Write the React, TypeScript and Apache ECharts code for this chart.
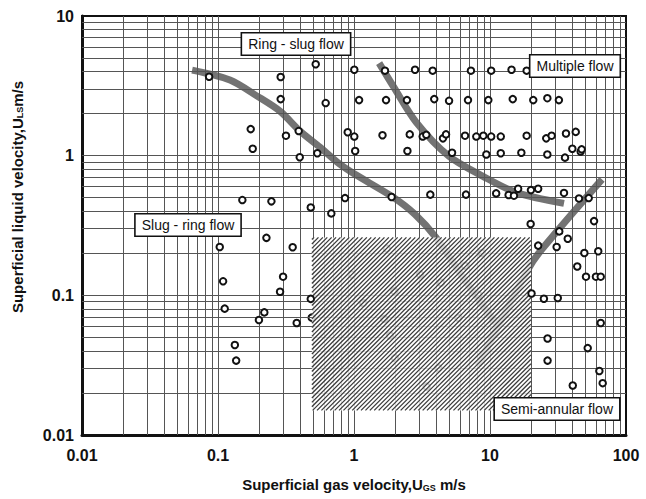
import { useEffect, useRef } from "react";
import * as echarts from "echarts";

// ---- axis ticks ----
const xTickLabels = ["0.01", "0.1", "1", "10", "100"];
const yTickLabels = ["0.01", "0.1", "1", "10"];

// ---- measured points (superficial gas velocity, superficial liquid velocity) ----
const pointsGas = [
  0.086, 0.289, 0.523, 0.289, 0.619, 0.174, 0.316, 0.392, 0.18, 0.399, 0.537, 0.151, 0.247, 0.481, 0.681,
  0.227, 0.103, 0.354, 0.109, 0.301, 0.286, 0.481, 0.112, 0.219, 0.2, 0.379, 0.133, 0.136,
  1.005, 1.69, 2.81, 3.79, 7.24, 1.09, 1.72, 2.45, 3.89, 5.0, 6.89, 0.899, 1.005, 1.02, 1.62, 2.57, 2.47,
  3.2, 3.4, 4.51, 4.75, 5.26, 6.55, 7.93, 8.93, 0.859, 1.89, 3.64, 6.66,
  10.2, 14.4, 18.6, 9.72, 14.7, 20.8, 26.4, 32.1, 10.2, 12.0, 18.6, 25.9, 28.4, 36.2, 42.7,
  9.4, 12.0, 17.0, 26.4, 35.6, 40.3, 46.4, 47.2, 11.1, 13.7, 15.0, 16.1, 20.0, 22.6, 35.0, 45.1, 53.2,
  19.9, 58.2, 32.3, 37.3, 22.6, 30.9, 49.4, 62.5, 43.8, 50.8, 60.1, 65.2, 20.2, 24.9, 31.5, 65.2,
  26.5, 52.3, 26.5, 63.7, 67.4, 40.6,
];
const pointsLiquid = [
  3.67, 3.66, 4.51, 2.54, 2.38, 1.55, 1.39, 1.5, 1.12, 0.974, 1.04, 0.481, 0.471, 0.426, 0.386,
  0.258, 0.222, 0.221, 0.126, 0.136, 0.106, 0.0943, 0.0803, 0.0755, 0.0666, 0.0634, 0.0441, 0.0341,
  4.12, 4.06, 4.12, 4.06, 4.06, 2.5, 2.5, 2.5, 2.54, 2.47, 2.5, 1.47, 1.37, 1.08, 1.4, 1.42, 1.08,
  1.37, 1.41, 1.33, 1.42, 1.05, 1.39, 1.37, 1.39, 0.497, 0.506, 0.526, 0.526,
  4.06, 4.12, 4.06, 2.5, 2.54, 2.5, 2.58, 2.5, 1.37, 1.37, 1.39, 1.33, 1.39, 1.44, 1.48,
  1.02, 1.04, 1.05, 1.02, 0.968, 1.12, 1.07, 1.11, 0.537, 0.523, 0.517, 0.58, 0.567, 0.58, 0.541, 0.494, 0.497,
  0.324, 0.34, 0.287, 0.254, 0.227, 0.222, 0.201, 0.207, 0.161, 0.136, 0.136, 0.136, 0.103, 0.0946, 0.0957, 0.0634,
  0.0491, 0.0419, 0.0341, 0.0287, 0.0235, 0.0226,
];

// points lying under the hatched region
const hiddenGas = [1.74, 0.962, 3.06, 1.98, 1.17, 4.36, 1.67, 1.84, 5.85, 2.0, 4.17, 3.42, 8.69, 6.55, 8.2, 0.489];
const hiddenLiquid = [0.216, 0.141, 0.141, 0.107, 0.0881, 0.123, 0.0677, 0.0516, 0.0689, 0.0355, 0.0301, 0.0222, 0.201, 0.163, 0.101, 0.0692];

// ---- flow regime boundaries ----
const slugRingGas = [0.0645, 0.1225, 0.194, 0.286, 0.401, 0.562, 0.789, 1.016, 1.9, 2.81, 4.01, 6.66, 11.07];
const slugRingLiquid = [4.1, 3.48, 2.67, 2.08, 1.5, 1.15, 0.867, 0.735, 0.511, 0.38, 0.259, 0.125, 0.0626];

const semiAnnularGas = [8.16, 19.0, 24.0, 66.6];
const semiAnnularLiquid = [0.0313, 0.153, 0.213, 0.677];

const multipleGas = [1.53, 1.94, 2.86, 5.0, 8.89, 15.5, 35.0];
const multipleLiquid = [4.6, 3.15, 1.74, 0.99, 0.711, 0.546, 0.455];

// ---- hatched region ----
const hatchGas = [0.49, 20];
const hatchLiquid = [0.015, 0.26];

// ---- regime labels ----
const regimeLabels = ["Ring - slug flow", "Multiple flow", "Slug - ring flow", "Semi-annular flow"];

const FONT = "'Liberation Sans', Arial, sans-serif";

function zip(a: number[], b: number[]) {
  return a.map((v, i) => [v, b[i]]);
}

function logGrid(minExp: number, maxExp: number) {
  const out: number[] = [];
  for (let e = minExp; e < maxExp; e++) {
    for (let m = 1; m <= 9; m++) {
      if (e === minExp && m === 1) continue;
      out.push(m * Math.pow(10, e));
    }
  }
  return out;
}

export default function App() {
  const ref = useRef<HTMLDivElement>(null);

  useEffect(() => {
    const chart = echarts.init(ref.current!, null, { renderer: "svg" });

    const gridX = logGrid(-2, 2);
    const gridY = logGrid(-2, 1);

    const boxStyle = (text: string) => ({
      text,
      fontSize: 14,
      fontFamily: FONT,
      fill: "#111",
      backgroundColor: "#fff",
      borderColor: "#111",
      borderWidth: 1.6,
      padding: [4, 6, 3, 6],
      align: "center",
      verticalAlign: "middle",
    });

    const option: any = {
      animation: false,
      backgroundColor: "#fff",
      grid: {
        left: 82,
        right: 20,
        top: 16,
        bottom: 64,
        show: true,
        borderColor: "#111",
        borderWidth: 2,
        backgroundColor: "transparent",
      },
      xAxis: {
        type: "log",
        logBase: 10,
        min: 0.01,
        max: 100,
        axisLine: { show: true, onZero: false, lineStyle: { color: "#111", width: 3 } },
        axisTick: { show: false },
        splitLine: { show: false },
        axisLabel: {
          margin: 12,
          fontSize: 16,
          fontWeight: "bold",
          fontFamily: FONT,
          color: "#111",
          formatter: (v: number) => xTickLabels[Math.round(Math.log10(v)) + 2],
        },
        name: "{a|Superficial gas velocity,U}{b|GS}{a| m/s}",
        nameLocation: "middle",
        nameGap: 42,
        nameTextStyle: {
          rich: {
            a: { fontSize: 15, fontWeight: "bold", fontFamily: FONT, color: "#111" },
            b: { fontSize: 9, fontWeight: "bold", fontFamily: FONT, color: "#111", verticalAlign: "bottom", padding: [4, 0, 0, 0] },
          },
        },
      },
      yAxis: {
        type: "log",
        logBase: 10,
        min: 0.01,
        max: 10,
        axisLine: { show: true, onZero: false, lineStyle: { color: "#111", width: 3 } },
        axisTick: { show: false },
        splitLine: { show: false },
        axisLabel: {
          margin: 8,
          fontSize: 16,
          fontWeight: "bold",
          fontFamily: FONT,
          color: "#111",
          formatter: (v: number) => yTickLabels[Math.round(Math.log10(v)) + 2],
        },
      },
      graphic: [
        {
          type: "text",
          x: 17,
          y: 197,
          rotation: Math.PI / 2,
          style: {
            text: "{a|Superficial liquid velocity,U}{b|LS}{a|m/s}",
            align: "center",
            verticalAlign: "middle",
            rich: {
              a: { fontSize: 15, fontWeight: "bold", fontFamily: FONT, fill: "#111" },
              b: { fontSize: 9, fontWeight: "bold", fontFamily: FONT, fill: "#111", verticalAlign: "bottom" },
            },
          },
        },
        { type: "text", x: 296, y: 44, z: 100, style: boxStyle(regimeLabels[0]) },
        { type: "text", x: 575, y: 66, z: 100, style: boxStyle(regimeLabels[1]) },
        { type: "text", x: 188, y: 225, z: 100, style: boxStyle(regimeLabels[2]) },
        { type: "text", x: 557, y: 409, z: 100, style: boxStyle(regimeLabels[3]) },
      ],
      series: [
        {
          type: "line",
          z: 1,
          data: [[1, 1]],
          showSymbol: false,
          lineStyle: { opacity: 0 },
          silent: true,
          markLine: {
            silent: true,
            symbol: ["none", "none"],
            label: { show: false },
            lineStyle: { type: "solid", color: "#555", width: 1 },
            data: [...gridX.map((v) => ({ xAxis: v })), ...gridY.map((v) => ({ yAxis: v }))],
          },
        },
        {
          type: "line",
          z: 3,
          data: zip(slugRingGas, slugRingLiquid),
          smooth: 0.3,
          showSymbol: false,
          lineStyle: { color: "#6c6c6c", width: 7, opacity: 0.95 },
          silent: true,
        },
        {
          type: "line",
          z: 3,
          data: zip(semiAnnularGas, semiAnnularLiquid),
          smooth: 0.3,
          showSymbol: false,
          lineStyle: { color: "#6c6c6c", width: 7, opacity: 0.95 },
          silent: true,
        },
        {
          type: "line",
          z: 3,
          data: zip(multipleGas, multipleLiquid),
          smooth: 0.3,
          showSymbol: false,
          lineStyle: { color: "#6c6c6c", width: 7, opacity: 0.95 },
          silent: true,
        },
        {
          type: "scatter",
          z: 4,
          data: zip(hiddenGas, hiddenLiquid),
          symbol: "circle",
          symbolSize: 6.5,
          itemStyle: { color: "#fff", borderColor: "#111", borderWidth: 2, opacity: 1 },
          silent: true,
        },
        {
          type: "custom",
          z: 5,
          silent: true,
          clip: false,
          data: [[1, 0.1]],
          renderItem: (_params: any, api: any) => {
            const p0 = api.coord([hatchGas[0], hatchLiquid[1]]);
            const p1 = api.coord([hatchGas[1], hatchLiquid[0]]);
            const L = p0[0], T = p0[1], R = p1[0], B = p1[1];
            const children: any[] = [
              { type: "rect", shape: { x: L, y: T, width: R - L, height: B - T }, style: { fill: "rgba(255,255,255,0.8)" } },
            ];
            const step = 4.4;
            for (let c = L + T + step / 2; c < R + B; c += step) {
              const xa = Math.max(L, c - B);
              const xb = Math.min(R, c - T);
              if (xb <= xa) continue;
              children.push({
                type: "line",
                shape: { x1: xa, y1: c - xa, x2: xb, y2: c - xb },
                style: { stroke: "#3a3a3a", lineWidth: 1.3 },
              });
            }
            return { type: "group", children };
          },
        },
        {
          type: "scatter",
          z: 6,
          data: zip(pointsGas, pointsLiquid),
          symbol: "circle",
          symbolSize: 6.5,
          itemStyle: { color: "#fff", borderColor: "#111", borderWidth: 2, opacity: 1 },
          silent: true,
        },
      ],
    };

    chart.setOption(option);
    return () => chart.dispose();
  }, []);

  return (
    <div
      ref={ref}
      style={{ position: "fixed", left: 0, top: 0, width: 646, height: 499, background: "#fff" }}
    />
  );
}
